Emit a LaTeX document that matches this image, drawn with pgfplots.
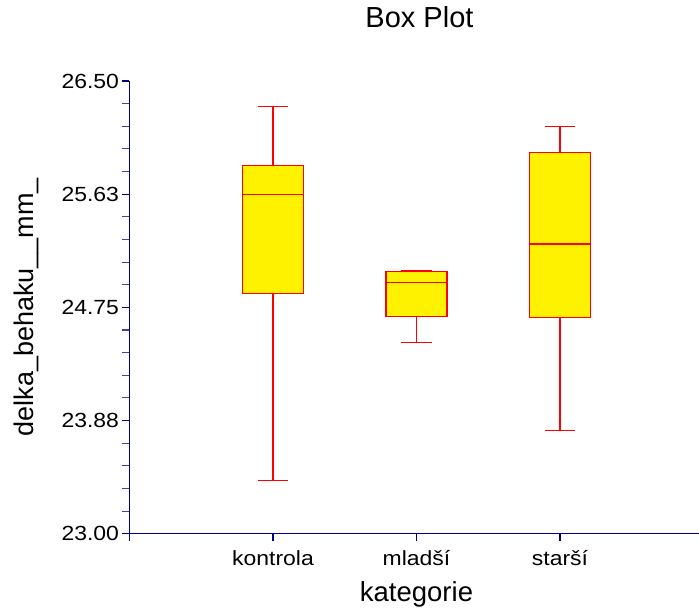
\documentclass[border=0pt]{standalone}
\usepackage{fontspec}
\setmainfont{Liberation Sans}
\newfontfamily\tickfont[FakeStretch=1.12]{Liberation Sans}
\usepackage{pgfplots}
\pgfplotsset{compat=1.18}
\usepgfplotslibrary{statistics}
\definecolor{axnavy}{RGB}{0,0,128}
\begin{document}
\begin{tikzpicture}
\useasboundingbox (-129.5pt,-76.3pt) rectangle (569.5pt,533.7pt);
\begin{axis}[
  at={(0,0)}, anchor=south west,
  scale only axis, width=574pt, height=452.7pt,
  xmin=0, xmax=4, ymin=23, ymax=26.5,
  axis x line=bottom, axis y line=left,
  axis line style={-},
  x axis line style={-, draw=axnavy, line width=1.3pt},
  y axis line style={-, draw=axnavy, line width=1.3pt},
  tick align=outside,
  major tick length=7pt, minor tick length=7pt,
  major tick style={draw=axnavy, line width=1.1pt},
  minor tick style={draw=axnavy!75, line width=1.1pt},
  xtick={0,1,2,3}, xticklabels={,kontrola,mladší,starší},
  ytick={23,23.875,24.75,25.625,26.5},
  yticklabels={23.00,23.88,24.75,25.63,26.50},
  minor y tick num=4,
  ticklabel style={font=\tickfont\fontsize{20.5}{20.5}\selectfont, text=black},
  xticklabel style={anchor=base, yshift=-24.3pt},
  title={Box Plot},
  title style={font=\fontsize{29}{29}\selectfont, at={(rel axis cs:0.5,1)}, anchor=base, yshift=47pt, xshift=3pt},
  xlabel={kategorie},
  xlabel style={font=\fontsize{27.5}{27.5}\selectfont, at={(rel axis cs:0.5,0)}, anchor=base, yshift=-67.3pt},
  ylabel={delka\_behaku\_\_mm\_},
  ylabel style={font=\fontsize{27}{27}\selectfont, at={(rel axis cs:0,0.5)}, anchor=base, yshift=95.5pt},
  boxplot/draw direction=y,
]
\addplot+[boxplot prepared={draw position=1, lower whisker=23.41, lower quartile=24.86, median=25.62, upper quartile=25.85, upper whisker=26.30, box extend=0.425, whisker extend=0.216}, draw=red, fill=yellow, line width=1.1pt, mark=none, solid] coordinates {};
\addplot+[boxplot prepared={draw position=2, lower whisker=24.48, lower quartile=24.68, median=24.94, upper quartile=25.03, upper whisker=25.035, box extend=0.425, whisker extend=0.216}, draw=red, fill=yellow, line width=1.1pt, mark=none, solid] coordinates {};
\addplot+[boxplot prepared={draw position=3, lower whisker=23.80, lower quartile=24.67, median=25.24, upper quartile=25.95, upper whisker=26.15, box extend=0.425, whisker extend=0.216}, draw=red, fill=yellow, line width=1.1pt, mark=none, solid] coordinates {};
\end{axis}
\end{tikzpicture}
\end{document}
